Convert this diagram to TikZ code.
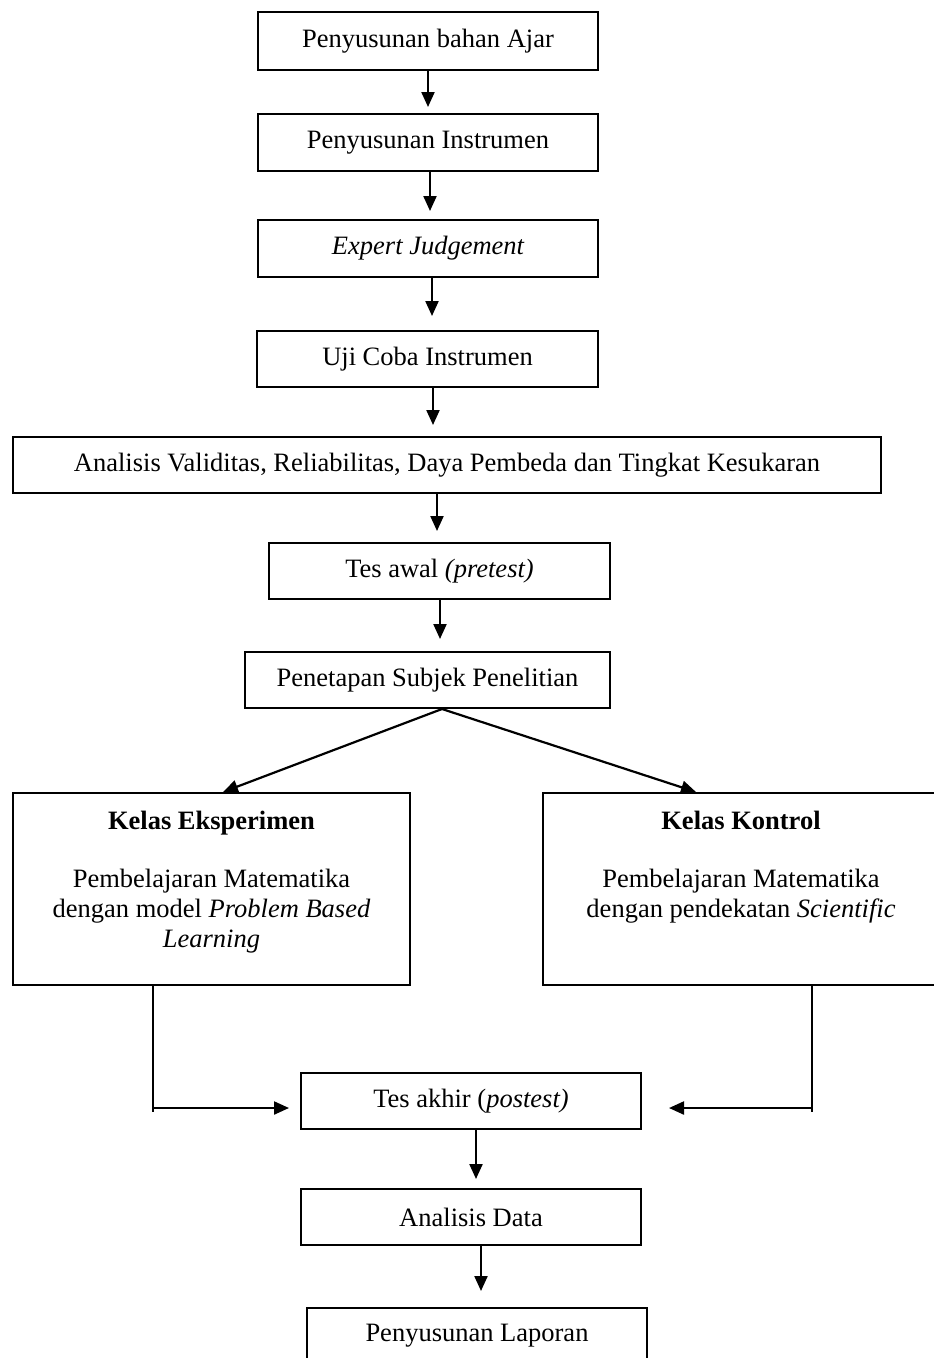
\documentclass[tikz,border=0pt]{standalone}
\usepackage{fontspec}
\setmainfont{Liberation Serif}
\usetikzlibrary{arrows.meta}
\begin{document}
\begin{tikzpicture}[x=1pt,y=-1pt,
  box/.style={draw=black,line width=2pt,inner sep=0pt,align=center,
    font=\fontsize{26.5}{30}\selectfont},
  ln/.style={line width=2.2pt},
  arr/.style={line width=2.2pt,-{Triangle[length=15pt,width=13pt]}}]
\useasboundingbox (0,0) rectangle (934,1358);
\node[box,minimum width=340pt,minimum height=58pt] (b1) at (428,41) {Penyusunan bahan Ajar};
\node[box,minimum width=340pt,minimum height=57pt] (b2) at (428,142.5) {Penyusunan Instrumen};
\node[box,minimum width=340pt,minimum height=57pt] (b3) at (428,248.5) {\itshape Expert Judgement};
\node[box,minimum width=341pt,minimum height=56pt] (b4) at (427.5,359) {Uji Coba Instrumen};
\node[box,minimum width=868pt,minimum height=56pt] (b5) at (447,465) {Analisis Validitas, Reliabilitas, Daya Pembeda dan Tingkat Kesukaran};
\node[box,minimum width=341pt,minimum height=56pt] (b6) at (439.5,571) {Tes awal \textit{(pretest)}};
\node[box,minimum width=365pt,minimum height=56pt] (b7) at (427.5,680) {Penetapan Subjek Penelitian};
\node[box] (left) at (211.5,889) {\parbox[t][192pt][t]{397pt}{\centering\rule{0pt}{36pt}\textbf{Kelas Eksperimen}\\[28pt]
  Pembelajaran Matematika\\ dengan model \textit{Problem Based}\\ \textit{Learning}}};
\node[box] (right) at (741,889) {\parbox[t][192pt][t]{396pt}{\centering\rule{0pt}{36pt}\textbf{Kelas Kontrol}\\[28pt]
  Pembelajaran Matematika\\ dengan pendekatan \textit{Scientific}}};
\node[box,minimum width=340pt,minimum height=56pt] (b8) at (471,1101) {Tes akhir (\textit{postest)}};
\node[box,minimum width=340pt,minimum height=56pt] (b9) at (471,1217) {Analisis Data};
\node[box,minimum width=340pt,minimum height=56pt] (b10) at (477,1336) {Penyusunan Laporan};
\draw[arr] ([yshift=2pt]b1.south) -- ([yshift=6pt]b2.north);
\draw[arr] ([xshift=2pt]b2.south) -- ([xshift=2pt,yshift=8pt]b3.north);
\draw[arr] ([xshift=4pt]b3.south) -- ([xshift=4.5pt,yshift=14pt]b4.north);
\draw[arr] ([xshift=5.5pt]b4.south) -- ([xshift=-14pt,yshift=11pt]b5.north);
\draw[arr] ([xshift=-10pt]b5.south) -- ([xshift=-2.5pt,yshift=11pt]b6.north);
\draw[arr] ([xshift=0.5pt]b6.south) -- ([xshift=12.5pt,yshift=12pt]b7.north);
\draw[arr] ([xshift=14.5pt]b7.south) -- ([xshift=11.5pt]left.north);
\draw[arr] ([xshift=14.5pt]b7.south) -- ([xshift=-45pt]right.north);
\coordinate (lc) at (153,1112);
\coordinate (lh) at (153,1108);
\coordinate (rc) at (812,1112);
\coordinate (rh) at (812,1108);
\draw[ln] ([xshift=-58.5pt]left.south) -- (lc);
\draw[arr] (lh) -- ([xshift=-11pt,yshift=-7pt]b8.west);
\draw[ln] ([xshift=71pt]right.south) -- (rc);
\draw[arr] (rh) -- ([xshift=27pt,yshift=-7pt]b8.east);
\draw[arr] ([xshift=5pt]b8.south) -- ([xshift=5pt,yshift=9pt]b9.north);
\draw[arr] ([xshift=10pt,yshift=2pt]b9.south) -- ([xshift=4pt,yshift=16pt]b10.north);
\end{tikzpicture}
\end{document}
